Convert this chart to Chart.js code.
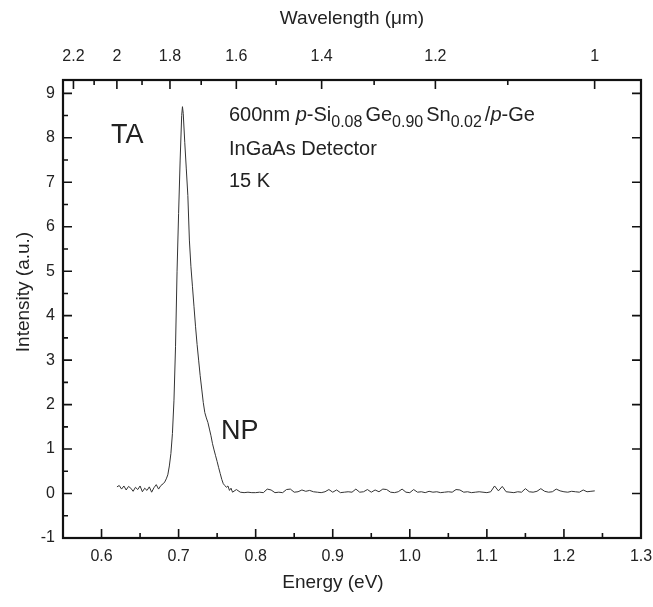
<!DOCTYPE html>
<html>
<head>
<meta charset="utf-8">
<script src="https://cdn.jsdelivr.net/npm/chart.js@4.4.1/dist/chart.umd.min.js"></script>
<style>
  html, body { margin: 0; padding: 0; background: #fff; }
</style>
</head>
<body>
<canvas id="pl" width="653" height="607"></canvas>
<script>
// PL spectrum
const energy = [
  0.620, 0.623, 0.626, 0.629, 0.632, 0.635, 0.638, 0.641, 0.644, 0.647, 0.650,
  0.653, 0.656, 0.659, 0.662, 0.665, 0.668, 0.671, 0.674, 0.677, 0.680,
  0.682, 0.684, 0.686, 0.688, 0.690, 0.692, 0.694, 0.696, 0.698, 0.700,
  0.702, 0.704, 0.705, 0.706, 0.708, 0.710, 0.712, 0.714, 0.716, 0.718,
  0.720, 0.722, 0.724, 0.726, 0.728, 0.730, 0.732, 0.734, 0.736, 0.738,
  0.740, 0.742, 0.744, 0.746, 0.748, 0.750, 0.752, 0.754, 0.756, 0.758,
  0.760, 0.762, 0.764, 0.766, 0.768, 0.770,
  0.775, 0.780, 0.785, 0.790, 0.795, 0.800, 0.805, 0.810, 0.815, 0.820,
  0.825, 0.830, 0.835, 0.840, 0.845, 0.850, 0.855, 0.860, 0.865, 0.870,
  0.875, 0.880, 0.885, 0.890, 0.895, 0.900, 0.905, 0.910, 0.915, 0.920,
  0.925, 0.930, 0.935, 0.940, 0.945, 0.950, 0.955, 0.960, 0.965, 0.970,
  0.975, 0.980, 0.985, 0.990, 0.995, 1.000, 1.005, 1.010, 1.015, 1.020,
  1.025, 1.030, 1.035, 1.040, 1.045, 1.050, 1.055, 1.060, 1.065, 1.070,
  1.075, 1.080, 1.085, 1.090, 1.095, 1.100, 1.105, 1.110, 1.115, 1.120,
  1.125, 1.130, 1.135, 1.140, 1.145, 1.150, 1.155, 1.160, 1.165, 1.170,
  1.175, 1.180, 1.185, 1.190, 1.195, 1.200, 1.205, 1.210, 1.215, 1.220,
  1.225, 1.230, 1.235, 1.240
];
const intensity = [
  0.15, 0.18, 0.10, 0.17, 0.08, 0.16, 0.12, 0.05, 0.14, 0.09, 0.17,
  0.04, 0.12, 0.07, 0.15, 0.03, 0.13, 0.20, 0.10, 0.18, 0.22,
  0.26, 0.33, 0.42, 0.62, 0.90, 1.35, 2.10, 3.30, 5.00, 6.30,
  7.50, 8.50, 8.70, 8.55, 7.90, 7.30, 6.70, 5.70, 5.10, 4.65,
  4.20, 3.75, 3.35, 3.00, 2.65, 2.35, 2.05, 1.82, 1.70, 1.60,
  1.45, 1.30, 1.12, 0.98, 0.85, 0.72, 0.58, 0.45, 0.32, 0.22,
  0.18, 0.14, 0.17, 0.07, 0.12, 0.03,
  0.09, 0.03, 0.02, 0.03, 0.02, 0.02, 0.03, 0.02, 0.10, 0.08,
  0.02, 0.03, 0.02, 0.09, 0.10, 0.03, 0.04, 0.08, 0.05, 0.07,
  0.04, 0.03, 0.02, 0.04, 0.09, 0.03, 0.08, 0.02, 0.03, 0.04,
  0.03, 0.10, 0.03, 0.04, 0.09, 0.03, 0.08, 0.04, 0.10, 0.09,
  0.03, 0.02, 0.04, 0.10, 0.03, 0.02, 0.09, 0.03, 0.04, 0.02,
  0.05, 0.03, 0.04, 0.02, 0.03, 0.04, 0.03, 0.09, 0.08, 0.03,
  0.04, 0.02, 0.03, 0.04, 0.03, 0.02, 0.04, 0.17, 0.06, 0.16,
  0.04, 0.03, 0.02, 0.04, 0.03, 0.11, 0.04, 0.03, 0.05, 0.11,
  0.05, 0.03, 0.04, 0.10, 0.06, 0.04, 0.03, 0.05, 0.04, 0.03,
  0.08, 0.04, 0.05, 0.06
];

const energyTicks = [0.6, 0.7, 0.8, 0.9, 1.0, 1.1, 1.2, 1.3];
const energyMinor = [0.65, 0.75, 0.85, 0.95, 1.05, 1.15, 1.25];
const intensityTicks = [-1, 0, 1, 2, 3, 4, 5, 6, 7, 8, 9];
const intensityMinor = [-0.5, 0.5, 1.5, 2.5, 3.5, 4.5, 5.5, 6.5, 7.5, 8.5];
const wavelengthTicks = [2.2, 2, 1.8, 1.6, 1.4, 1.2, 1];
const wavelengthMinor = [2.1, 1.9, 1.7, 1.5, 1.3, 1.1];
const HC = 1.23984; // eV*um, E = hc / lambda

const FONT = '"Liberation Sans", Arial, sans-serif';
const INK = '#222';

const frame = {
  id: 'frame',
  afterDraw(chart) {
    const { ctx, chartArea: a, scales: { x, x2, y } } = chart;
    ctx.save();
    ctx.strokeStyle = '#111';
    ctx.lineWidth = 1.6;
    ctx.beginPath();
    // bottom
    energyTicks.forEach(v => { const p = x.getPixelForValue(v); ctx.moveTo(p, a.bottom); ctx.lineTo(p, a.bottom - 9); });
    energyMinor.forEach(v => { const p = x.getPixelForValue(v); ctx.moveTo(p, a.bottom); ctx.lineTo(p, a.bottom - 5); });
    // top (wavelength)
    wavelengthTicks.forEach(l => { const p = x2.getPixelForValue(HC / l); ctx.moveTo(p, a.top); ctx.lineTo(p, a.top + 9); });
    wavelengthMinor.forEach(l => { const p = x2.getPixelForValue(HC / l); ctx.moveTo(p, a.top); ctx.lineTo(p, a.top + 5); });
    // left + right
    intensityTicks.forEach(v => {
      const p = y.getPixelForValue(v);
      ctx.moveTo(a.left, p); ctx.lineTo(a.left + 9, p);
      ctx.moveTo(a.right, p); ctx.lineTo(a.right - 9, p);
    });
    intensityMinor.forEach(v => { const p = y.getPixelForValue(v); ctx.moveTo(a.left, p); ctx.lineTo(a.left + 5, p); });
    ctx.stroke();

    ctx.lineWidth = 2.2;
    ctx.strokeRect(a.left, a.top, a.right - a.left, a.bottom - a.top);

    // axis titles
    ctx.fillStyle = INK;
    ctx.font = '19px ' + FONT;
    ctx.textAlign = 'center';
    ctx.textBaseline = 'middle';
    ctx.fillText('Energy (eV)', 333, 583);
    ctx.save();
    ctx.translate(24, 292);
    ctx.rotate(-Math.PI / 2);
    ctx.fillText('Intensity (a.u.)', 0, 0);
    ctx.restore();

    // annotations
    ctx.textAlign = 'left';
    ctx.textBaseline = 'alphabetic';
    ctx.font = '27px ' + FONT;
    ctx.fillText('TA', 111, 143);
    ctx.fillText('NP', 221, 439);

    const parts = [
      ['600nm ', 'n'], ['p', 'i'], ['-Si', 'n'], ['0.08', 's'], ['Ge', 'n'], ['0.90', 's'],
      ['Sn', 'n'], ['0.02', 's'], ['/', 'n'], ['p', 'i'], ['-Ge', 'n']
    ];
    let cx = 229;
    parts.forEach(([t, k]) => {
      ctx.font = k === 's' ? '16px ' + FONT : (k === 'i' ? 'italic 20px ' : '20px ') + FONT;
      ctx.fillText(t, cx, k === 's' ? 127 : 121);
      cx += ctx.measureText(t).width + (k === 's' ? 3 : 0);
    });
    ctx.font = '20px ' + FONT;
    ctx.fillText('InGaAs Detector', 229, 155);
    ctx.fillText('15 K', 229, 187);
    ctx.restore();
  }
};

const noSidePad = s => { s.paddingLeft = 0; s.paddingRight = 0; };

new Chart(document.getElementById('pl'), {
  type: 'line',
  data: {
    datasets: [{
      data: energy.map((e, i) => ({ x: e, y: intensity[i] })),
      borderColor: '#333',
      borderWidth: 1,
      pointRadius: 0,
      tension: 0,
      xAxisID: 'x',
      yAxisID: 'y'
    }]
  },
  options: {
    responsive: false,
    animation: false,
    devicePixelRatio: 1,
    layout: { padding: { right: 12 } },
    plugins: { legend: { display: false }, tooltip: { enabled: false } },
    scales: {
      x: {
        type: 'linear',
        position: 'bottom',
        min: 0.55,
        max: 1.3,
        afterFit: s => { s.height = 69; noSidePad(s); },
        afterBuildTicks: s => { s.ticks = energyTicks.map(v => ({ value: v })); },
        ticks: {
          callback: v => v.toFixed(1),
          autoSkip: false, maxRotation: 0,
          padding: 9,
          color: INK,
          font: { family: FONT, size: 16 }
        },
        grid: { display: false, drawTicks: false },
        border: { display: false }
      },
      x2: {
        type: 'linear',
        position: 'top',
        min: 0.55,
        max: 1.3,
        afterFit: s => { s.height = 80; noSidePad(s); },
        afterBuildTicks: s => { s.ticks = wavelengthTicks.map(l => ({ value: HC / l })); },
        ticks: {
          callback: (v, i) => String(wavelengthTicks[i]),
          autoSkip: false, maxRotation: 0,
          padding: 14,
          color: INK,
          font: { family: FONT, size: 16 }
        },
        title: {
          display: true,
          text: 'Wavelength (\u03bcm)',
          color: INK,
          font: { family: FONT, size: 19 },
          padding: { top: 7 }
        },
        grid: { display: false, drawTicks: false },
        border: { display: false }
      },
      y: {
        min: -1,
        max: 9.3,
        afterFit: s => { s.width = 63; s.paddingTop = 0; s.paddingBottom = 0; },
        afterBuildTicks: s => { s.ticks = intensityTicks.map(v => ({ value: v })); },
        ticks: {
          autoSkip: false,
          padding: 8,
          color: INK,
          font: { family: FONT, size: 16 }
        },
        grid: { display: false, drawTicks: false },
        border: { display: false }
      }
    }
  },
  plugins: [frame]
});
</script>
</body>
</html>
